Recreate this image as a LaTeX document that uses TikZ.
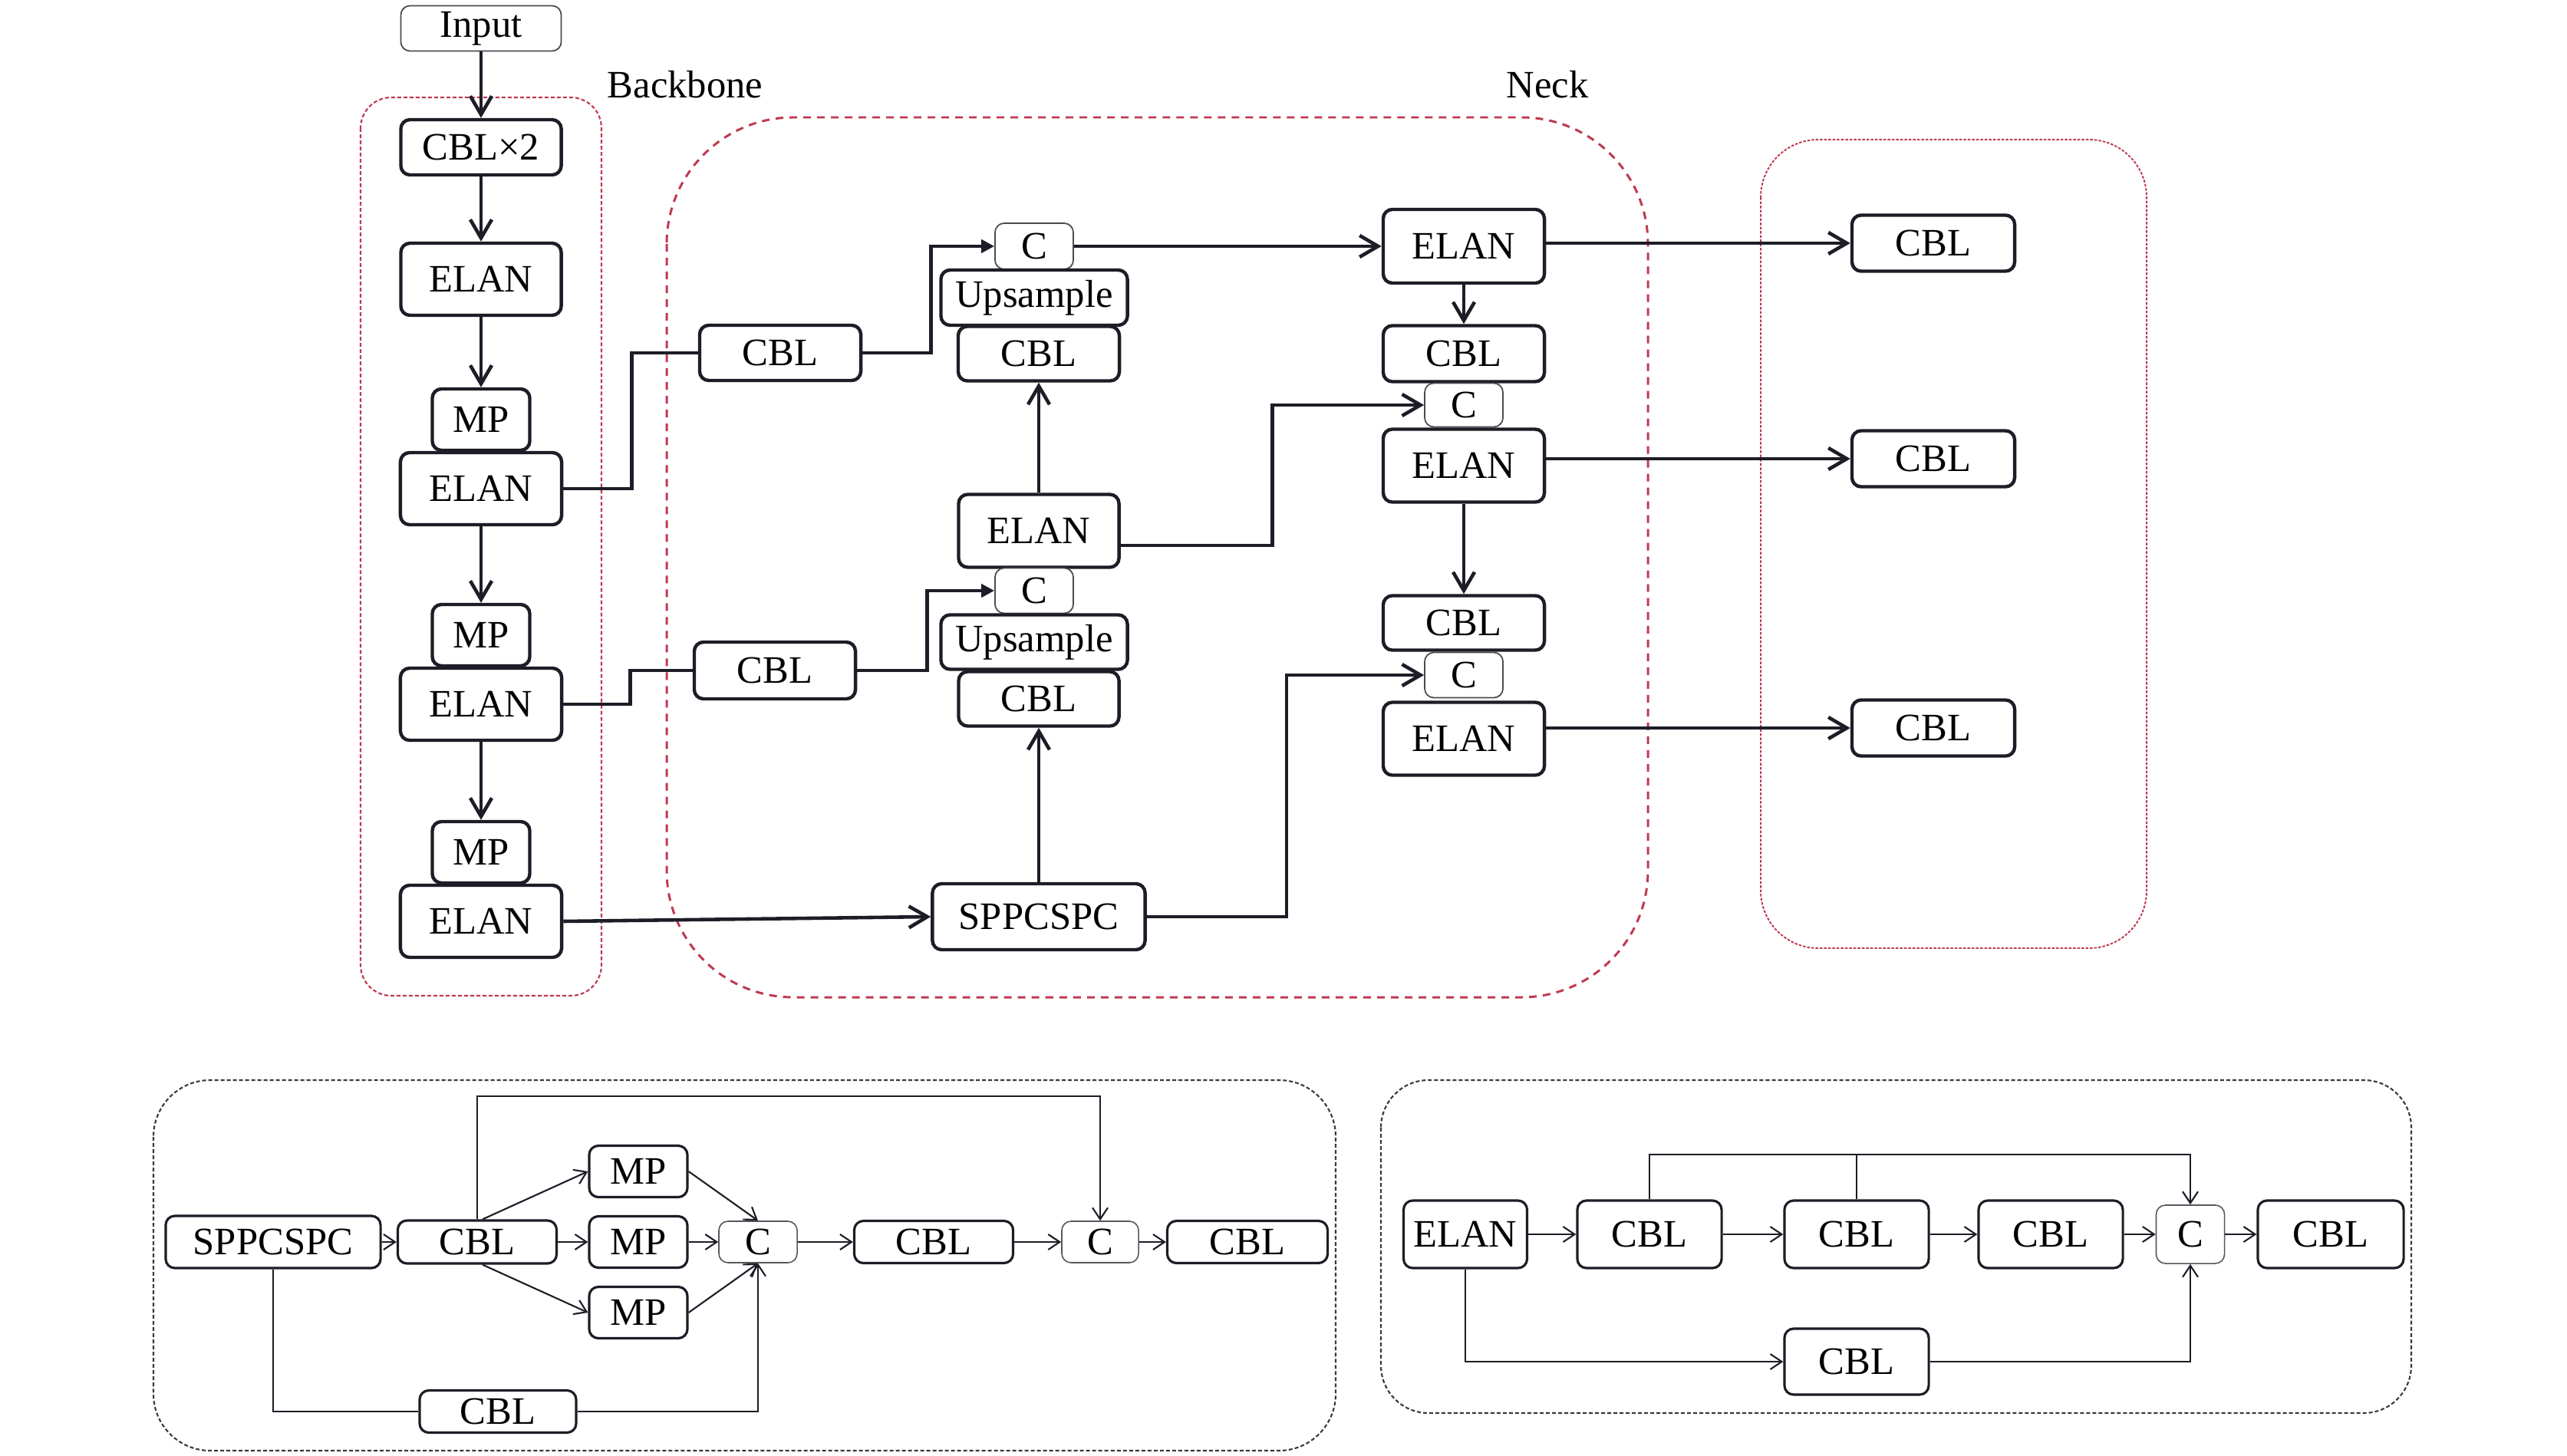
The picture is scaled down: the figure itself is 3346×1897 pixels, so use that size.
\documentclass[tikz,border=0pt]{standalone}
\usepackage{fontspec}
\setmainfont{Liberation Serif}
\usetikzlibrary{arrows.meta}
\definecolor{Ink}{HTML}{1D1D27}
\definecolor{Crimson}{HTML}{BE3A50}
\definecolor{Frame}{HTML}{3A3A3A}
\tikzset{
  blk/.style={draw=Ink,line width=1.25pt,rounded corners=1.2mm,inner sep=0pt,fill=white},
  thinblk/.style={blk,line width=0.5pt,draw=Ink!80},
  sblk/.style={blk,line width=0.9pt},
  sthin/.style={blk,line width=0.45pt,draw=Ink!75},
  link/.style={draw=Ink,line width=1.3pt},
  arr/.style={link,-{Straight Barb[length=2.4mm,width=2.8mm]}},
  farr/.style={link,-{Triangle[length=1.7mm,width=1.7mm]}},
  sline/.style={draw=Ink,line width=0.6pt},
  sarr/.style={sline,-{Straight Barb[length=1.5mm,width=2mm]}}
}

\begin{document}
\begin{tikzpicture}[x=0.01cm,y=-0.01cm,font=\fontsize{14.4}{17}\selectfont]
  \useasboundingbox (0,0) rectangle (3346,1897);

  % dashed regions
  \draw[Crimson,line width=0.6pt,dash pattern=on 0.5mm off 0.3mm,rounded corners=0.4cm]
    (470,127) rectangle (784,1298);
  \draw[Crimson,line width=0.85pt,dash pattern=on 1mm off 0.8mm,rounded corners=1.65cm]
    (869,153) rectangle (2148,1300);
  \draw[Crimson,line width=0.55pt,dash pattern=on 0.35mm off 0.2mm,rounded corners=0.75cm]
    (2295,182) rectangle (2798,1236);
  \node (bbl) at (893,110) {Backbone};
  \node (nkl) at (2017,110) {Neck};

  % backbone
  \node[thinblk,minimum width=2.09cm,minimum height=0.59cm] (inp) at (627,37) {Input};
  \node[blk,minimum width=2.09cm,minimum height=0.72cm] (cbx) at (627,192) {CBL×2};
  \node[blk,minimum width=2.09cm,minimum height=0.94cm] (elan1) at (627,364) {ELAN};
  \foreach \i/\j/\y in {1/2/547,2/3/828,3/4/1111}{
    \node[blk,minimum width=1.27cm,minimum height=0.80cm] (mp\i) at (627,\y) {MP};
    \node[blk,minimum width=2.10cm,minimum height=0.94cm] (elan\j) at (627,\y+90) {ELAN};
  }
  \foreach \a/\b in {inp/cbx,cbx/elan1,elan1/mp1,elan2/mp2,elan3/mp3}
    \draw[arr] (\a.south) -- (\b.north);

  % neck
  \node[blk,minimum width=2.10cm,minimum height=0.72cm] (ncbl1) at (1017,460) {CBL};
  \node[blk,minimum width=2.10cm,minimum height=0.74cm] (ncbl2) at (1010,874) {CBL};
  \node[thinblk,minimum width=1.02cm,minimum height=0.60cm] (c1) at (1348,321) {C};
  \node[blk,minimum width=2.43cm,minimum height=0.72cm] (up1) at (1348,388) {Upsample};
  \node[blk,minimum width=2.10cm,minimum height=0.71cm] (ucbl1) at (1354,461) {CBL};
  \node[blk,minimum width=2.09cm,minimum height=0.95cm] (elanm) at (1354,692) {ELAN};
  \node[thinblk,minimum width=1.02cm,minimum height=0.59cm] (c2) at (1348,770) {C};
  \node[blk,minimum width=2.43cm,minimum height=0.71cm] (up2) at (1348,837) {Upsample};
  \node[blk,minimum width=2.09cm,minimum height=0.71cm] (ucbl2) at (1354,911) {CBL};
  \node[blk,minimum width=2.77cm,minimum height=0.86cm] (spp) at (1354,1195) {SPPCSPC};
  \node[blk,minimum width=2.10cm,minimum height=0.96cm] (elanr1) at (1908,321) {ELAN};
  \node[blk,minimum width=2.10cm,minimum height=0.73cm] (rcbl1) at (1908,461) {CBL};
  \node[thinblk,minimum width=1.02cm,minimum height=0.57cm] (cr1) at (1908,528) {C};
  \node[blk,minimum width=2.10cm,minimum height=0.95cm] (elanr2) at (1908,607) {ELAN};
  \node[blk,minimum width=2.10cm,minimum height=0.71cm] (rcbl2) at (1908,812) {CBL};
  \node[thinblk,minimum width=1.02cm,minimum height=0.59cm] (cr2) at (1908,880) {C};
  \node[blk,minimum width=2.10cm,minimum height=0.95cm] (elanr3) at (1908,963) {ELAN};

  % head
  \foreach \n/\y in {1/317,2/598,3/949}
    \node[blk,minimum width=2.12cm,minimum height=0.73cm] (h\n) at (2520,\y) {CBL};

  \draw[link] (elan2.east) -- ++(89,0) |- (ncbl1.west);
  \draw[farr] (ncbl1.east) -- ++(89,0) |- (c1.west);
  \draw[link] (elan3.east) -- ++(87,0) |- (ncbl2.west);
  \draw[farr] (ncbl2.east) -- ++(91,0) |- (c2.west);
  \draw[arr] (elan4.east) -- (spp.west);
  \draw[arr] (spp.north) -- (ucbl2.south);
  \draw[arr] (elanm.north) -- (ucbl1.south);
  \draw[arr] (c1.east) -- (elanr1.west);
  \draw[arr] (elanr1.south) -- (rcbl1.north);
  \draw[arr] (elanr2.south) -- (rcbl2.north);
  \draw[arr] ([yshift=-0.19cm]elanm.east) -- ++(198,0) |- (cr1.west);
  \draw[arr] (spp.east) -- ++(182,0) |- (cr2.west);
  \foreach \n in {1,2,3}
    \draw[arr] (h\n.west -| elanr\n.east) -- (h\n.west);

  % SPPCSPC detail
  \draw[Frame,line width=0.6pt,dash pattern=on 0.5mm off 0.3mm,rounded corners=0.74cm]
    (200,1408) rectangle (1741,1891);
  \node[sblk,minimum width=2.80cm,minimum height=0.68cm] (bspp) at (356,1619) {SPPCSPC};
  \node[sblk,minimum width=2.07cm,minimum height=0.56cm] (bcbl1) at (622,1619) {CBL};
  \foreach \i/\y in {1/1527,2/1619,3/1711}
    \node[sblk,minimum width=1.28cm,minimum height=0.67cm] (bmp\i) at (832,\y) {MP};
  \node[sthin,minimum width=1.02cm,minimum height=0.54cm] (bc1) at (988,1619) {C};
  \node[sblk,minimum width=2.07cm,minimum height=0.55cm] (bcbl2) at (1217,1619) {CBL};
  \node[sthin,minimum width=1.00cm,minimum height=0.54cm] (bc2) at (1434,1619) {C};
  \node[sblk,minimum width=2.09cm,minimum height=0.55cm] (bcbl3) at (1626,1619) {CBL};
  \node[sblk,minimum width=2.04cm,minimum height=0.55cm] (bcbl4) at (649,1840) {CBL};

  \draw[sarr] (bspp.east) -- (bcbl1.west);
  \draw[sarr] ([xshift=0.07cm]bcbl1.north) -- (bmp1.west);
  \draw[sarr] (bcbl1.east) -- (bmp2.west);
  \draw[sarr] ([xshift=0.07cm]bcbl1.south) -- (bmp3.west);
  \draw[sarr] (bmp1.east) -- (bc1.north);
  \draw[sarr] (bmp2.east) -- (bc1.west);
  \draw[sarr] (bmp3.east) -- (bc1.south);
  \draw[sarr] (bc1.east) -- (bcbl2.west);
  \draw[sarr] (bcbl2.east) -- (bc2.west);
  \draw[sarr] (bc2.east) -- (bcbl3.west);
  \draw[sarr] (bcbl1.north) -- ++(0,-160) -| (bc2.north);
  \draw[sline] (bspp.south) |- (bcbl4.west);
  \draw[sarr] (bcbl4.east) -| (bc1.south);

  % ELAN detail
  \draw[Frame,line width=0.6pt,dash pattern=on 0.5mm off 0.3mm,rounded corners=0.62cm]
    (1800,1408) rectangle (3143,1842);
  \node[sblk,minimum width=1.61cm,minimum height=0.88cm] (relan) at (1910,1609) {ELAN};
  \foreach \n/\x in {a/2150,b/2420,c/2673}
    \node[sblk,minimum width=1.88cm,minimum height=0.88cm] (rcbl\n) at (\x,1609) {CBL};
  \node[sthin,minimum width=0.89cm,minimum height=0.76cm] (rc) at (2855,1609) {C};
  \node[sblk,minimum width=1.90cm,minimum height=0.88cm] (rcbld) at (3038,1609) {CBL};
  \node[sblk,minimum width=1.88cm,minimum height=0.86cm] (rcble) at (2420,1775) {CBL};

  \foreach \a/\b in {relan/rcbla,rcbla/rcblb,rcblb/rcblc,rcblc/rc,rc/rcbld}
    \draw[sarr] (\a.east) -- (\b.west);
  \draw[sarr] (rcbla.north) -- ++(0,-58) -| (rc.north);
  \draw[sline] (rcblb.north) -- ++(0,-58);
  \draw[sarr] (relan.south) |- (rcble.west);
  \draw[sarr] (rcble.east) -| (rc.south);
\end{tikzpicture}
\end{document}
